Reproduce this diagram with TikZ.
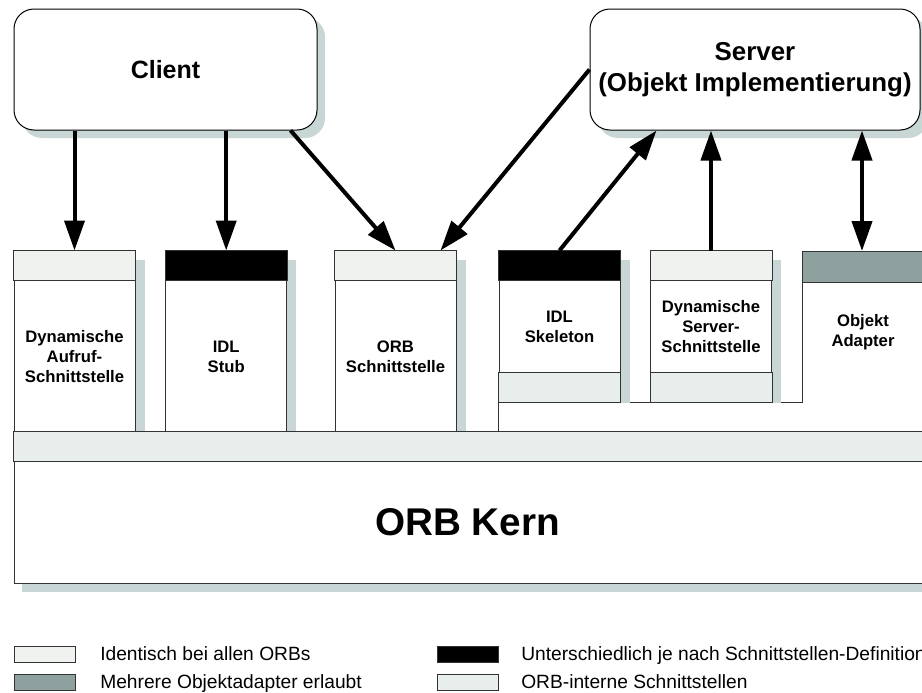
\documentclass[tikz,border=0pt]{standalone}
\usepackage{fontspec}
\setmainfont{Liberation Sans}
\usetikzlibrary{arrows.meta,shadows}
\definecolor{identcol}{HTML}{F0F2F0}
\definecolor{internalcol}{HTML}{E8EEEC}
\definecolor{shadowcol}{HTML}{C8D6D6}
\definecolor{adaptcol}{HTML}{8FA19F}
\definecolor{linecol}{HTML}{333333}
\begin{document}
\begin{tikzpicture}[x=0.75pt,y=-0.75pt,
  party/.style={draw=black, line width=0.75pt, fill=white, rounded corners=15pt,
    minimum height=90.75pt, inner sep=0pt, align=center,
    font=\bfseries\fontsize{18.75}{23}\selectfont,
    drop shadow={shadow xshift=6pt, shadow yshift=-6pt, fill=shadowcol, opacity=1}},
  colbox/.style={draw=linecol, line width=0.75pt, fill=white, inner sep=0pt,
    minimum width=90.75pt},
  tallbox/.style={colbox, minimum height=135.75pt},
  shortbox/.style={colbox, minimum height=113.25pt},
  lbl/.style={align=center, font=\bfseries\fontsize{12.5}{15}\selectfont},
  band/.style={draw=linecol, line width=0.75pt},
  arr/.style={line width=3pt, -{Triangle[length=22.5pt,width=15pt]}},
  darr/.style={line width=3pt, {Triangle[length=22.5pt,width=15pt]}-{Triangle[length=22.5pt,width=15pt]}},
  legbox/.style={draw=linecol, line width=0.75pt, minimum width=45.75pt, minimum height=12pt, inner sep=0pt},
  legtext/.style={anchor=base west, inner sep=0pt, font=\fontsize{14.4}{17}\selectfont}
]
\useasboundingbox (0,0) rectangle (922,693);
\clip (0,0) rectangle (922,693);

% client and server
\node[party, minimum width=227.25pt] (client) at (165.5,69.5) {Client};
\node[party, minimum width=247.5pt, font=\bfseries\fontsize{19.4}{23}\selectfont]
  (server) at (755,69.5) {Server\\(Objekt Implementierung)};

% object adapter: L-shaped area under the server-side interfaces
\draw[draw=linecol, line width=0.75pt, fill=white]
  (498.5,432) -- (498.5,402) -- (802,402) -- (802,251) -- (940,251) -- (940,432);
\filldraw[band, fill=adaptcol] (802,251) rectangle (940,282);
\node[lbl] (oa) at (863,332) {Objekt\\Adapter};
\coordinate (oatop) at (862,251);

% client-side interfaces
\node[tallbox] (dyn) at (74.5,341.5) {};
\node[tallbox] (stub) at (226.2,341.5) {};
\node[tallbox] (orb) at (395.5,341.5) {};
\foreach \b in {dyn,stub,orb}
  \fill[shadowcol] ([yshift=-6.75pt]\b.north east) rectangle ([xshift=6.75pt]\b.south east);
\filldraw[band, fill=identcol] (dyn.north west) rectangle ([yshift=-22.5pt]dyn.north east);
\filldraw[band, fill=black] (stub.north west) rectangle ([yshift=-22.5pt]stub.north east);
\filldraw[band, fill=identcol] (orb.north west) rectangle ([yshift=-22.5pt]orb.north east);
\node[lbl] (dynl) at (74.5,356.7) {Dynamische\\Aufruf-\\Schnittstelle};
\node[lbl] (stubl) at (226.2,356.7) {IDL\\Stub};
\node[lbl] (orbl) at (395.5,356.7) {ORB\\Schnittstelle};

% server-side interfaces
\node[shortbox] (skel) at (559.5,326.5) {};
\node[shortbox] (dsi) at (711,326.5) {};
\foreach \b in {skel,dsi}{
  \fill[shadowcol] ([yshift=-6.75pt]\b.north east) rectangle ([xshift=6.75pt]\b.south east);
  \filldraw[band, fill=internalcol] (\b.south west) rectangle ([yshift=22.5pt]\b.south east);
}
\filldraw[band, fill=black] (skel.north west) rectangle ([yshift=-22.5pt]skel.north east);
\filldraw[band, fill=identcol] (dsi.north west) rectangle ([yshift=-22.5pt]dsi.north east);
\node[lbl] (skell) at (559.5,327) {IDL\\Skeleton};
\node[lbl] (dsil) at (711,326.5) {Dynamische\\Server-\\Schnittstelle};

% ORB core
\fill[shadowcol] (22,583) rectangle (940,592);
\node[draw=linecol, line width=0.75pt, fill=white, inner sep=0pt,
  minimum width=694.5pt, minimum height=113.25pt] (kern) at (477,507.5) {};
\filldraw[band, fill=internalcol] (kern.north west) rectangle ([yshift=-22.5pt]kern.north east);
\node[font=\bfseries\fontsize{29}{34}\selectfont] (kernl) at (467.5,522) {ORB Kern};

% connectors
\draw[arr] (dyn.north |- client.south) -- (dyn.north);
\draw[arr] (stub.north |- client.south) -- (stub.north);
\draw[arr] (client.-26.3) -- (orb.north);
\draw[arr] (server.west) -- ([xshift=-12pt]orb.north east);
\draw[arr] (skel.north) -- ([xshift=50.25pt]server.south west);
\draw[arr] (dsi.north) -- (dsi.north |- server.south);
\draw[darr] (oatop) -- (oatop |- server.south);

% legend
\node[legbox, fill=identcol] (lg1) at (44.5,654) {};
\node[legbox, fill=adaptcol] (lg2) at (44.5,682) {};
\node[legbox, fill=black] (lg3) at (468,654) {};
\node[legbox, fill=internalcol] (lg4) at (468,682) {};
\node[legtext] (lt1) at (100,660) {Identisch bei allen ORBs};
\node[legtext] (lt2) at (100,688) {Mehrere Objektadapter erlaubt};
\node[legtext] (lt3) at (521,660) {Unterschiedlich je nach Schnittstellen-Definition};
\node[legtext] (lt4) at (521,688) {ORB-interne Schnittstellen};
\end{tikzpicture}
\end{document}
